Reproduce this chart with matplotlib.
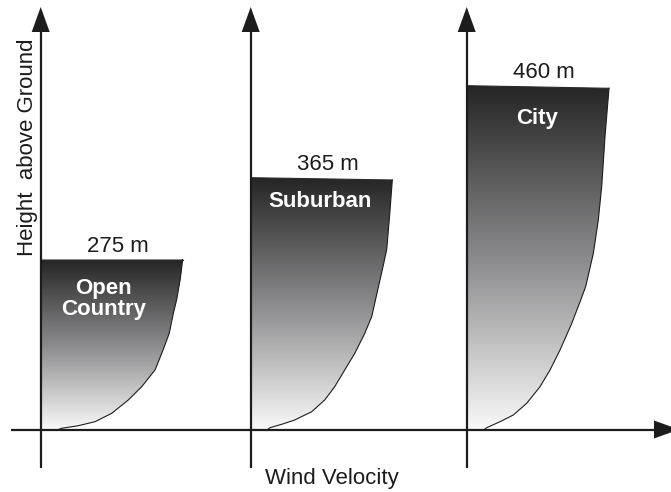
import numpy as np
import matplotlib
matplotlib.use("Agg")
import matplotlib.pyplot as plt
from matplotlib.colors import LinearSegmentedColormap
from matplotlib.patches import Polygon

# terrain categories and boundary layer heights
terrains = ["Open\nCountry", "Suburban", "City"]
top_labels = ["275 m", "365 m", "460 m"]

# wind profiles (velocity, height) in drawing units, top -> ground
open_h = [170, 150, 130, 116, 96, 76, 59.5, 42.8, 29.5, 16.2, 7.8, 3.8, 1.2, 0]
open_v = [142, 139.5, 136, 132.6, 128.5, 121, 114.3, 101, 87.6, 71, 54.3, 37.6, 21, 18]
suburb_h = [249.5, 215, 180, 166, 139.5, 112.8, 96, 76, 59.5, 42.8, 29.5, 17.8, 9.5, 5.2, 1.8, 0]
suburb_v = [141.6, 139, 136, 133, 127, 121, 114, 104, 94, 84, 74, 61, 44, 31, 19.3, 17]
city_h = [341.2, 293, 243, 209.5, 176, 143, 129.5, 106, 79.5, 59.5, 42.8, 26.2, 14.5, 7.8, 1.8, 0]
city_v = [142.3, 138.3, 135, 131.6, 126.6, 119, 114, 105, 93.3, 83.3, 73.3, 60, 46.6, 33.3, 20, 17.5]
top_left_h = [170, 251.8, 343.8]

profiles = [(open_v, open_h), (suburb_v, suburb_h), (city_v, city_h)]

# layout (pixels)
origins = [40.7, 250.7, 466.7]
base = 429.5
label_pos = [(103.5, 299), (320.3, 201.7), (536.7, 118.3)]

plt.rcParams['font.family'] = ['Liberation Sans', 'DejaVu Sans']
fig = plt.figure(figsize=(6.71, 4.92), dpi=100)
ax = fig.add_axes([0, 0, 1, 1])
ax.set_xlim(0, 671)
ax.set_ylim(492, 0)
ax.axis('off')

ink = '#1c1c1c'
cmap = LinearSegmentedColormap.from_list('g', ['#252525', '#8a8a8c', '#f8f8f8'])
grad = np.linspace(0, 1, 256).reshape(-1, 1)

for i, (v, h) in enumerate(profiles):
    x0 = origins[i]
    xs = [x0] + [x0 + a for a in v] + [x0]
    ys = [base - top_left_h[i]] + [base - b for b in h] + [base]
    poly = Polygon(np.column_stack([xs, ys]), closed=True, facecolor='none', edgecolor='none')
    ax.add_patch(poly)
    im = ax.imshow(grad, cmap=cmap, aspect='auto', origin='upper',
                   extent=(x0, x0 + max(v) + 2, base, base - top_left_h[i]), zorder=1)
    im.set_clip_path(poly)
    ax.plot([x0 + a for a in v], [base - b for b in h], color=ink, lw=0.8, zorder=2)
    ax.plot([x0, x0 + v[0]], [base - top_left_h[i], base - h[0]], color='#2a2a2a', lw=0.8, zorder=2)

    # vertical axis with arrowhead
    ax.plot([x0, x0], [468, 30], color=ink, lw=1.6, zorder=3, solid_capstyle='butt')
    ax.fill([x0 - 9, x0 + 9, x0], [32, 32, 7], color=ink, zorder=3, lw=0)

    ax.text(x0 + v[0] / 2 + 6, base - top_left_h[i] - 13, top_labels[i], fontsize=16,
            color=ink, ha='center', va='center')
    lx, ly = label_pos[i]
    ax.text(lx, ly, terrains[i], fontsize=16, fontweight='bold', color='white',
            ha='center', va='center', linespacing=1.0, zorder=4)

# horizontal axis with arrowhead
ax.plot([11, 656], [base, base], color=ink, lw=1.6, zorder=3, solid_capstyle='butt')
ax.fill([654, 654, 679], [base - 9, base + 9, base], color=ink, zorder=3, lw=0)

ax.text(331.7, 478.3, "Wind Velocity", fontsize=16, color=ink, ha='center', va='center')
ax.text(27.5, 147.7, "Height  above Ground", fontsize=16, color=ink, ha='center',
        va='center', rotation=90)

fig.savefig("out.png", dpi=100)
